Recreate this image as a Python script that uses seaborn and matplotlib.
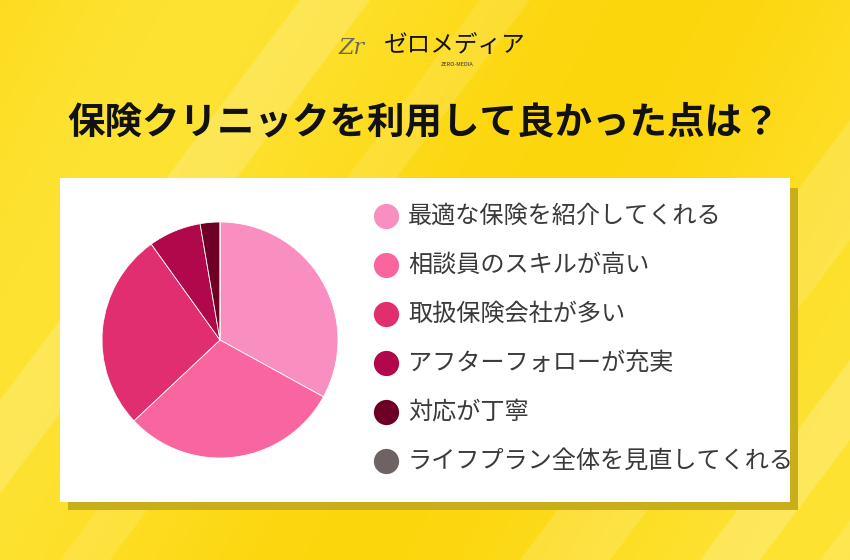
import matplotlib.pyplot as plt
import matplotlib.patches as mpatches
import numpy as np
import seaborn as sns

# data (share of answers, %)
labels = ["最適な保険を紹介してくれる", "相談員のスキルが高い", "取扱保険会社が多い",
          "アフターフォローが充実", "対応が丁寧", "ライフプラン全体を見直してくれる"]
shares = [33.0, 30.0, 27.1, 7.2, 2.7, 0.0]
colors = ["#F98FC0", "#F9669F", "#E12E70", "#B0084B", "#6E0025", "#6E6262"]

title = "保険クリニックを利用して良かった点は？"

sns.set_theme(style="white")
plt.rcParams['font.family'] = ['Noto Sans CJK JP', 'DejaVu Sans']

W, H = 850, 560
fig = plt.figure(figsize=(W / 100, H / 100), dpi=100)

# background: yellow gradient with soft diagonal light streaks
bg = fig.add_axes([0, 0, 1, 1])
bg.set_xlim(0, W)
bg.set_ylim(H, 0)
bg.axis("off")
yy, xx = np.mgrid[0:H, 0:W]
grad = 0.5 + 0.5 * np.sin((xx + yy * 0.55) / 140.0)
base = np.array([0.99, 0.84, 0.05])
light = np.array([1.0, 0.92, 0.30])
img = base[None, None, :] * (1 - grad[..., None] * 0.6) + light[None, None, :] * (grad[..., None] * 0.6)
bg.imshow(img, extent=[0, W, H, 0], aspect="auto", zorder=0)
for x0, w, a in [(-120, 70, 0.18), (60, 50, 0.12), (520, 90, 0.15), (700, 60, 0.2), (820, 80, 0.15)]:
    bg.add_patch(mpatches.Polygon([[x0, H], [x0 + w, H], [x0 + w + 420, 0], [x0 + 420, 0]],
                                  closed=True, color="white", alpha=a, lw=0, zorder=1))

# card with shadow
bg.add_patch(mpatches.Rectangle((68, 188), 730, 322, color="#C9AE1C", lw=0, zorder=2))
bg.add_patch(mpatches.Rectangle((60, 178), 730, 324, color="white", lw=0, zorder=3))

# logo
bg.text(352, 48, "Zr", fontsize=16, style="italic", color="#6B6B55", ha="center", va="center",
        family="DejaVu Serif", zorder=4)
bg.text(384, 45, "ゼロメディア", fontsize=17, color="#111111", ha="left", va="center", zorder=4)
bg.text(457, 64, "ZERO-MEDIA", fontsize=4, color="#333333", ha="center", va="center", zorder=4)

# title
bg.text(424, 122, title, fontsize=27, fontweight="bold", color="#111111",
        ha="center", va="center", zorder=4)

# pie
cx, cy, r = 220, 340, 118
ax = fig.add_axes([(cx - r) / W, (H - cy - r) / H, 2 * r / W, 2 * r / H])
ax.pie(shares, colors=colors, startangle=90, counterclock=False,
       wedgeprops=dict(linewidth=0.6, edgecolor="white"))
ax.set_xlim(-1.0, 1.0)
ax.set_ylim(-1.0, 1.0)
ax.set_aspect("equal")
ax.axis("off")

# legend
for i, (lab, col) in enumerate(zip(labels, colors)):
    y = 216 + i * 49
    bg.scatter([386], [y], s=330, color=col, zorder=5, lw=0)
    bg.text(408, y, lab, fontsize=17.4, color="#3A3A3A", ha="left", va="center", zorder=5)

fig.savefig("out.png", dpi=100)
